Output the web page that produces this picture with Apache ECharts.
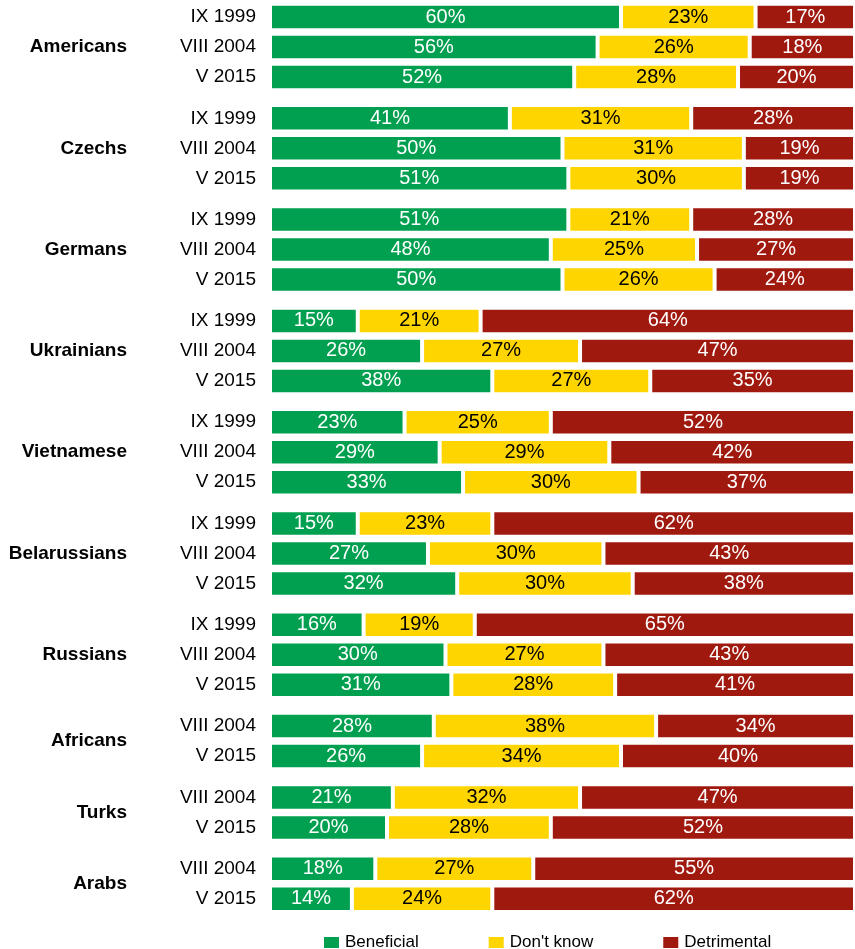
<!DOCTYPE html>
<html>
<head>
<meta charset="utf-8">
<script src="https://cdn.jsdelivr.net/npm/echarts@6/dist/echarts.min.js"></script>
<style>
html,body{margin:0;padding:0;background:#fff;}
#chart{width:855px;height:949px;}
</style>
</head>
<body>
<div id="chart"></div>
<script>
var groups = ['Americans','Czechs','Germans','Ukrainians','Vietnamese','Belarussians','Russians','Africans','Turks','Arabs'];
var waves3 = ['IX 1999','VIII 2004','V 2015'];
var waves2 = ['VIII 2004','V 2015'];
var waves = [waves3,waves3,waves3,waves3,waves3,waves3,waves3,waves2,waves2,waves2];
var seriesNames = ['Beneficial', "Don't know", 'Detrimental'];
var beneficial = [[60,56,52],[41,50,51],[51,48,50],[15,26,38],[23,29,33],[15,27,32],[16,30,31],[28,26],[21,20],[18,14]];
var dontKnow   = [[23,26,28],[31,31,30],[21,25,26],[21,27,27],[25,29,30],[23,30,30],[19,27,28],[38,34],[32,28],[27,24]];
var detrimental= [[17,18,20],[28,19,19],[28,27,24],[64,47,35],[52,42,37],[62,43,38],[65,43,41],[34,40],[47,52],[55,62]];

var colors = ['#00A050', '#FFD500', '#A0190F'];
var labelColors = ['#ffffff', '#000000', '#ffffff'];
var FONT = "'Liberation Sans', Arial, sans-serif";

var rowH = 30, groupGap = 11.3, firstTop = 2, gridLeft = 270;
var grids = [], xAxes = [], yAxes = [], series = [];
var rowsBefore = 0;
var values = [beneficial, dontKnow, detrimental];
groups.forEach(function(g, i){
  var n = waves[i].length;
  var top = firstTop + rowsBefore*rowH + i*groupGap;
  grids.push({left: gridLeft, right: 0, top: top, height: n*rowH, containLabel: false});
  xAxes.push({type:'value', gridIndex:i, min:0, max:100, show:false});
  yAxes.push({type:'category', gridIndex:i, data: waves[i], inverse:true,
    axisLine:{show:false}, axisTick:{show:false}, splitLine:{show:false},
    axisLabel:{margin:14, fontSize:19, color:'#000', fontFamily:FONT}});
  yAxes.push({type:'category', gridIndex:i, data:[g], position:'left',
    axisLine:{show:false}, axisTick:{show:false}, splitLine:{show:false},
    axisLabel:{margin:143, fontSize:19, fontWeight:'bold', color:'#000', fontFamily:FONT}});
  for (var s=0; s<3; s++){
    series.push({
      name: seriesNames[s], type:'bar', stack:'g'+i,
      xAxisIndex:i, yAxisIndex:2*i,
      barWidth: 26.5,
      data: values[s][i],
      itemStyle:{color:colors[s], borderColor:'#fff', borderWidth:2},
      label:{show:true, position:'inside', formatter:'{c}%', color:labelColors[s],
        fontSize:20, fontFamily:FONT},
      emphasis:{disabled:true},
      animation:false
    });
  }
  rowsBefore += n;
});

var chart = echarts.init(document.getElementById('chart'));
chart.setOption({
  animation:false,
  grid: grids, xAxis: xAxes, yAxis: yAxes, series: series,
  legend:{data: seriesNames, left:317, top:929, itemWidth:17, itemHeight:13, itemGap:68,
    icon:'rect', textStyle:{fontSize:17, color:'#000', fontFamily:FONT}}
});
</script>
</body>
</html>
